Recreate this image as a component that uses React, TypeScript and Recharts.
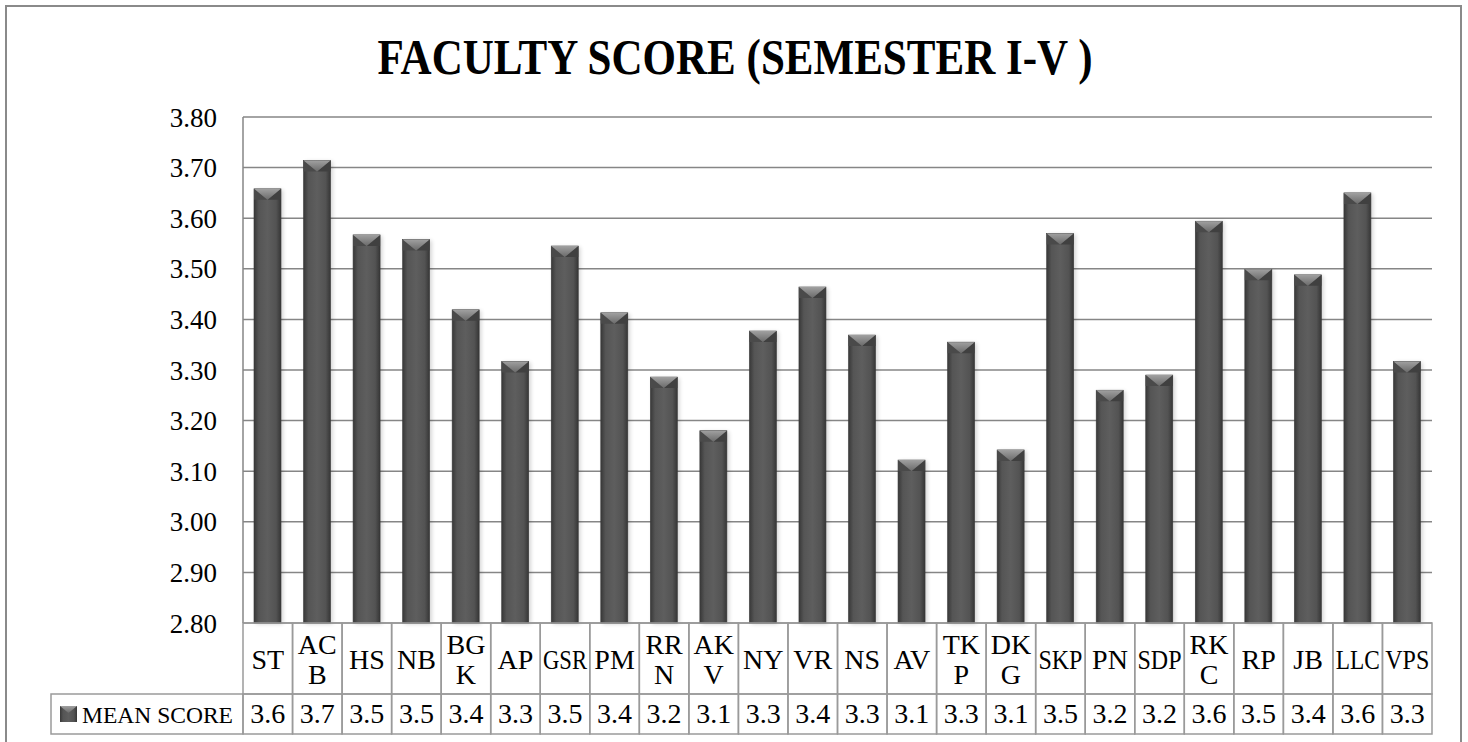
import React from 'react';
import { BarChart, Bar, XAxis, YAxis, CartesianGrid } from 'recharts';

const categories = ['ST', 'ACB', 'HS', 'NB', 'BGK', 'AP', 'GSR', 'PM', 'RRN', 'AKV', 'NY', 'VR', 'NS', 'AV', 'TKP', 'DKG', 'SKP', 'PN', 'SDP', 'RKC', 'RP', 'JB', 'LLC', 'VPS'];
const categoryLabels = ['ST', 'AC\nB', 'HS', 'NB', 'BG\nK', 'AP', 'GSR', 'PM', 'RR\nN', 'AK\nV', 'NY', 'VR', 'NS', 'AV', 'TK\nP', 'DK\nG', 'SKP', 'PN', 'SDP', 'RK\nC', 'RP', 'JB', 'LLC', 'VPS'];
const meanScores = [3.658, 3.714, 3.567, 3.558, 3.419, 3.317, 3.545, 3.413, 3.286, 3.180, 3.377, 3.464, 3.369, 3.122, 3.355, 3.142, 3.570, 3.260, 3.290, 3.594, 3.499, 3.488, 3.650, 3.317];
const tableValues = ['3.6', '3.7', '3.5', '3.5', '3.4', '3.3', '3.5', '3.4', '3.2', '3.1', '3.3', '3.4', '3.3', '3.1', '3.3', '3.1', '3.5', '3.2', '3.2', '3.6', '3.5', '3.4', '3.6', '3.3'];
const yTicks = [2.8, 2.9, 3.0, 3.1, 3.2, 3.3, 3.4, 3.5, 3.6, 3.7, 3.8];
const seriesName = 'MEAN SCORE';
const chartTitle = 'FACULTY SCORE (SEMESTER I-V )';

const data = categories.map((c, i) => ({ name: c, value: meanScores[i] }));

const FONT = '"Liberation Serif", "DejaVu Serif", serif';
const GRID = '#868686';
const BORDER = '#9a9a9a';
const FS = 28;

function BevelBar(props: any) {
  const { x, y, width, height } = props;
  if (!(height > 0)) return null;
  const bev = Math.min(11, height);
  return (
    <g>
      <rect x={x + 2} y={y + 1} width={width} height={height} fill="#000" opacity={0.18} filter="url(#barBlur)" />
      <rect x={x} y={y} width={width} height={height} fill="url(#barBody)" stroke="#3a3a3a" strokeWidth={0.6} />
      <polygon points={`${x},${y} ${x + width / 2},${y + bev} ${x},${y + bev}`} fill="#4a4a4a" />
      <polygon points={`${x + width},${y} ${x + width / 2},${y + bev} ${x + width},${y + bev}`} fill="#404040" />
      <polygon points={`${x},${y} ${x + width},${y} ${x + width / 2},${y + bev}`} fill="url(#bevelTop)" />
    </g>
  );
}

function TableTick(props: any) {
  const { x, y, payload } = props;
  const idx = categories.indexOf(payload.value);
  const half = payload && payload.offset ? payload.offset : 24.77;
  const left = x - half;
  const w = half * 2;
  const catH = 71;
  const valH = 40;
  const lines = categoryLabels[idx].split('\n');
  const textProps = { fontFamily: FONT, fontSize: FS, fill: '#000', textAnchor: 'middle' as const };
  const fit = (s: string) => (s.length >= 3 ? { textLength: 44, lengthAdjust: 'spacingAndGlyphs' } : {});
  return (
    <g>
      <rect x={left} y={y} width={w} height={catH} fill="none" stroke={BORDER} strokeWidth={1.5} />
      <rect x={left} y={y + catH} width={w} height={valH} fill="none" stroke={BORDER} strokeWidth={1.5} />
      {lines.length === 1 ? (
        <text x={x} y={y + 46} {...textProps} {...fit(lines[0])}>{lines[0]}</text>
      ) : (
        <g>
          <text x={x} y={y + 31} {...textProps}>{lines[0]}</text>
          <text x={x} y={y + 61} {...textProps}>{lines[1]}</text>
        </g>
      )}
      <text x={x} y={y + 100} {...textProps}>{tableValues[idx]}</text>
      {idx === 0 && (
        <g>
          <rect x={51} y={y + catH} width={left - 51} height={valH} fill="none" stroke={BORDER} strokeWidth={1.5} />
          <rect x={60} y={y + catH + 12} width={17} height={16} fill="url(#barBody)" />
          <polygon points={`60,${y + catH + 12} 77,${y + catH + 12} 68.5,${y + catH + 19}`} fill="url(#bevelTop)" />
          <text x={82} y={y + 100} fontFamily={FONT} fontSize={24} fill="#000" textLength={151} lengthAdjust="spacingAndGlyphs">{seriesName}</text>
        </g>
      )}
    </g>
  );
}

export default function App() {
  return (
    <div style={{ position: 'absolute', left: 0, top: 0, width: 1468, height: 742, background: '#fff', overflow: 'hidden' }}>
      <svg width={0} height={0} style={{ position: 'absolute' }}>
        <defs>
          <linearGradient id="barBody" x1="0" y1="0" x2="1" y2="0">
            <stop offset="0%" stopColor="#383838" />
            <stop offset="18%" stopColor="#555555" />
            <stop offset="50%" stopColor="#5e5e5e" />
            <stop offset="82%" stopColor="#535353" />
            <stop offset="100%" stopColor="#363636" />
          </linearGradient>
          <linearGradient id="bevelTop" x1="0" y1="0" x2="0" y2="1">
            <stop offset="0%" stopColor="#a0a0a0" />
            <stop offset="100%" stopColor="#6a6a6a" />
          </linearGradient>
          <filter id="barBlur" x="-50%" y="-10%" width="200%" height="120%">
            <feGaussianBlur stdDeviation="2" />
          </filter>
        </defs>
      </svg>
      <BarChart
        width={1468}
        height={742}
        data={data}
        margin={{ top: 117, right: 36, bottom: 0, left: 0 }}
        barSize={27}
      >
        <CartesianGrid horizontal vertical={false} stroke={GRID} strokeWidth={1.5} />
        <XAxis
          dataKey="name"
          interval={0}
          axisLine={false}
          tickLine={false}
          tickSize={0}
          tickMargin={0}
          height={119}
          tick={<TableTick />}
        />
        <YAxis
          type="number"
          domain={[2.8, 3.8]}
          ticks={yTicks}
          interval={0}
          width={243}
          axisLine={{ stroke: GRID, strokeWidth: 1.5 }}
          tickLine={false}
          tickSize={0}
          tickMargin={26}
          tickFormatter={(v: number) => v.toFixed(2)}
          tick={{ fontFamily: FONT, fontSize: 27, fill: '#000' }}
        />
        <Bar dataKey="value" name={seriesName} isAnimationActive={false} shape={<BevelBar />} />
      </BarChart>
      <svg width={1468} height={742} style={{ position: 'absolute', left: 0, top: 0, pointerEvents: 'none' }}>
        <rect x={6} y={6} width={1455} height={780} fill="none" stroke="#8a8a8a" strokeWidth={2} />
        <text x={735} y={74} textAnchor="middle" fontFamily={FONT} fontWeight="bold" fontSize={51} fill="#000" textLength={715} lengthAdjust="spacingAndGlyphs">{chartTitle}</text>
      </svg>
    </div>
  );
}
